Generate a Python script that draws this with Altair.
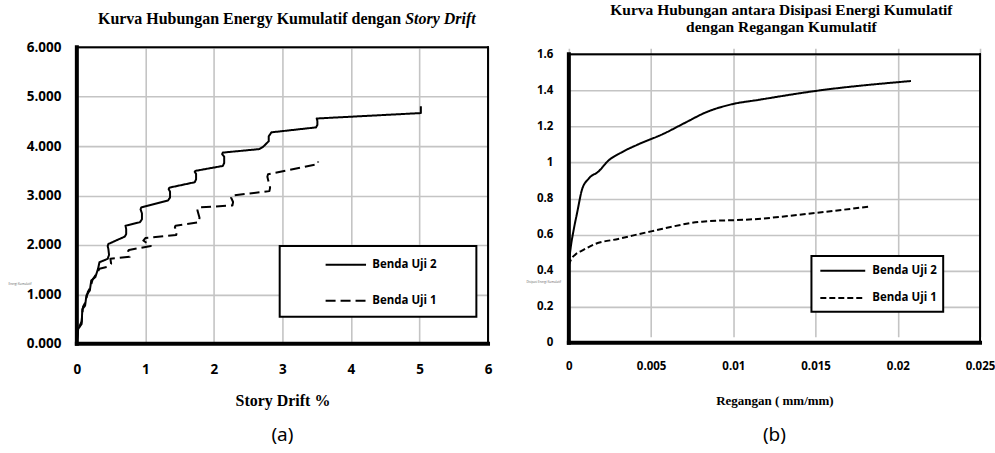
import altair as alt
import pandas as pd

SERIES = ["Benda Uji 2", "Benda Uji 1"]

# ---- panel (a): cumulative energy vs story drift ----
drift_u2 = [0.00, 0.02, 0.07, 0.08, 0.12, 0.14, 0.19, 0.21, 0.27, 0.31, 0.33, 0.45,
            0.47, 0.46, 0.45, 0.46,
            0.70, 0.72, 0.72, 0.71,
            0.92, 0.95, 0.95, 0.93, 0.94,
            1.33, 1.36, 1.36, 1.34, 1.35,
            1.72, 1.74, 1.74, 1.72, 1.73,
            2.13, 2.15, 2.15, 2.12, 2.13,
            2.66, 2.72, 2.80, 2.80, 2.84,
            3.49, 3.51, 3.51, 3.50,
            5.02, 5.02]
energy_u2 = [0.05, 0.30, 0.40, 0.70, 0.77, 0.98, 1.08, 1.28, 1.35, 1.52, 1.65, 1.72,
             1.80, 1.92, 1.98, 2.02,
             2.17, 2.22, 2.32, 2.39,
             2.46, 2.52, 2.64, 2.72, 2.76,
             2.90, 2.96, 3.08, 3.13, 3.16,
             3.27, 3.33, 3.44, 3.48, 3.50,
             3.60, 3.66, 3.79, 3.84, 3.87,
             3.94, 3.99, 4.10, 4.20, 4.28,
             4.38, 4.43, 4.51, 4.56,
             4.67, 4.81]
drift_u1 = [0.00, 0.02, 0.07, 0.09, 0.13, 0.16, 0.20, 0.23, 0.28, 0.33, 0.45, 0.50, 0.49,
            0.77, 0.76, 0.75, 0.76,
            1.08, 0.97, 1.00,
            1.45, 1.46, 1.43, 1.44,
            1.78, 1.79, 1.76, 1.77,
            2.27, 2.28, 2.25, 2.26,
            2.81, 2.82, 2.78, 2.79,
            3.52, 3.52]
energy_u1 = [0.05, 0.30, 0.45, 0.75, 0.85, 1.05, 1.15, 1.30, 1.40, 1.52, 1.56, 1.62, 1.72,
             1.76, 1.82, 1.88, 1.90,
             1.98, 2.09, 2.14,
             2.20, 2.27, 2.36, 2.39,
             2.46, 2.55, 2.70, 2.76,
             2.80, 2.87, 2.96, 3.00,
             3.09, 3.16, 3.38, 3.43,
             3.64, 3.69]

# ---- panel (b): cumulative dissipated energy vs cumulative strain ----
strain_u2 = [0.0000, 0.0001, 0.0003, 0.0005, 0.0008, 0.0012, 0.0018, 0.0024, 0.0032, 0.0042,
             0.0057, 0.0071, 0.0083, 0.0099, 0.0115, 0.0150, 0.0208]
diss_u2 = [0.44, 0.52, 0.63, 0.72, 0.85, 0.91, 0.95, 1.01, 1.056, 1.10,
           1.157, 1.222, 1.277, 1.323, 1.347, 1.397, 1.452]
strain_u1 = [0.0000, 0.0001, 0.0004, 0.0008, 0.0016, 0.0030, 0.0050, 0.0081, 0.0112, 0.0150, 0.0182]
diss_u1 = [0.43, 0.456, 0.49, 0.511, 0.548, 0.576, 0.618, 0.672, 0.685, 0.72, 0.755]

x_ticks_a = [0, 1, 2, 3, 4, 5, 6]
y_ticks_a = [0, 1, 2, 3, 4, 5, 6]
x_ticks_b = [0, 0.005, 0.01, 0.015, 0.02, 0.025]
y_ticks_b = [0, 0.2, 0.4, 0.6, 0.8, 1.0, 1.2, 1.4, 1.6]

title_a = ["Kurva Hubungan Energy Kumulatif  dengan", "Story Drift"]
title_b = ["Kurva Hubungan antara Disipasi Energi Kumulatif", "dengan Regangan Kumulatif"]
xtitle_a = "Story Drift  %"
xtitle_b = "Regangan  ( mm/mm)"
ytitle_a = "Energi Kumulatif"
ytitle_b = "Disipasi Energi Kumulatif"
panel_labels = ["(a)", "(b)"]

W, H = 412, 297
GRID = "#c4c4c4"
LFONT = "Open Sans"
SERIF = "Liberation Serif"


def series_df(xs_list, ys_list):
    rows = []
    for s, xs, ys in zip(SERIES, xs_list, ys_list):
        for i, (x, y) in enumerate(zip(xs, ys)):
            rows.append({"s": s, "i": i, "x": x, "y": y})
    return pd.DataFrame(rows)


def panel(df, xdom, ydom, yrange, xticks, yticks, xfmt, yfmt, lab_size, xlabpad, ylabpad,
          xtitle, xtitle_size, ytitle, ytitle_pos, dash, interp, box, leg_x, leg_y, leg_tx, leg_size,
          title_marks, title_size, plabel):
    xs = alt.Scale(domain=xdom, nice=False, zero=False)
    if yrange is None:
        ys = alt.Scale(domain=ydom, nice=False, zero=False)
    else:
        ys = alt.Scale(domain=ydom, nice=False, zero=False, range=yrange)
    xaxis = alt.Axis(values=xticks, format=xfmt, grid=True, gridColor=GRID, gridWidth=1.6,
                     ticks=False, domain=False, labelFont=LFONT, labelFontWeight="bold",
                     labelFontSize=lab_size, labelColor="black", labelPadding=xlabpad,
                     labelFlush=False, labelOverlap=False, labelBound=False,
                     title=xtitle, titleFont=SERIF, titleFontWeight="bold",
                     titleFontSize=xtitle_size, titleColor="black", titleX=W / 2, titleY=57,
                     titleBaseline="middle", titleAlign="center")
    yaxis = alt.Axis(values=yticks, format=yfmt, grid=True, gridColor=GRID, gridWidth=1.6,
                     ticks=False, domain=False, labelFont=LFONT, labelFontWeight="bold",
                     labelFontSize=lab_size, labelColor="black", labelPadding=ylabpad,
                     labelFlush=False, labelOverlap=False, labelBound=False,
                     title=ytitle, titleFont=LFONT, titleFontSize=3, titleFontWeight="normal",
                     titleColor="#666666", titleAngle=0, titleX=ytitle_pos[0], titleY=ytitle_pos[1],
                     titleAlign="left", titleBaseline="middle")
    X = lambda f="x": alt.X(f"{f}:Q", scale=xs, axis=xaxis)
    Y = lambda f="y": alt.Y(f"{f}:Q", scale=ys, axis=yaxis)
    dash_enc = alt.StrokeDash("s:N", scale=alt.Scale(domain=SERIES, range=[[1, 0], dash]), legend=None)

    lines = alt.Chart(df).mark_line(color="black", strokeWidth=2, interpolate=interp,
                                    strokeJoin="round").encode(
        x=X(), y=Y(), strokeDash=dash_enc, order="i:Q")

    border = pd.DataFrame({
        "x": [xdom[0], xdom[1], xdom[0], xdom[0]],
        "x2": [xdom[1], xdom[1], xdom[0], xdom[1]],
        "y": [ydom[1], ydom[0], ydom[0], ydom[0]],
        "y2": [ydom[1], ydom[1], ydom[1], ydom[0]],
        "w": [2, 2, 4, 4],
    })
    frame = alt.Chart(border).mark_rule(color="black", strokeCap="square").encode(
        x=X(), y=Y(), x2="x2:Q", y2="y2:Q", strokeWidth=alt.StrokeWidth("w:Q", scale=None))

    boxdf = pd.DataFrame({"x": [box[0]], "x2": [box[1]], "y": [box[2]], "y2": [box[3]]})
    legbox = alt.Chart(boxdf).mark_rect(fill="white", stroke="black", strokeWidth=2).encode(
        x=X(), x2="x2:Q", y=Y(), y2="y2:Q")

    legdf = pd.DataFrame({"s": SERIES, "x": [leg_x[0]] * 2, "x2": [leg_x[1]] * 2,
                          "y": leg_y, "tx": [leg_tx] * 2})
    leglines = alt.Chart(legdf).mark_rule(color="black", strokeWidth=2).encode(
        x=X(), x2="x2:Q", y=Y(), strokeDash=dash_enc)
    legtext = alt.Chart(legdf).mark_text(align="left", baseline="middle", font=LFONT,
                                         fontWeight="bold", fontSize=leg_size, color="black").encode(
        x=X("tx"), y=Y(), text="s:N")

    layers = [lines, legbox, leglines, legtext, frame]
    for txt, px, py, align, style in title_marks:
        tdf = pd.DataFrame({"t": [txt]})
        layers.append(alt.Chart(tdf).mark_text(align=align, baseline="middle", font=SERIF,
                                               fontWeight="bold", fontStyle=style,
                                               fontSize=title_size, color="black").encode(
            x=alt.value(px), y=alt.value(py), text="t:N"))
    pdf = pd.DataFrame({"t": [plabel]})
    layers.append(alt.Chart(pdf).mark_text(align="center", baseline="middle", font="Noto Sans",
                                           fontSize=19, color="black").encode(
        x=alt.value(W / 2), y=alt.value(388), text="t:N"))
    return alt.layer(*layers).properties(width=W, height=H)


left = panel(
    series_df([drift_u2, drift_u1], [energy_u2, energy_u1]),
    [0, 6], [0, 6], None, x_ticks_a, y_ticks_a, "d", ".3f", 13.5, 19, 16,
    xtitle_a, 16, ytitle_a, (-69, 237), [10, 5], "linear",
    (2.96, 5.83, 1.98, 0.545), (3.63, 4.22), [1.60, 0.87], 4.31, 11.5,
    [(title_a[0], 325, -28, "right", "normal"), (title_a[1], 329, -28, "left", "italic")], 16,
    panel_labels[0],
)

right = panel(
    series_df([strain_u2, strain_u1], [diss_u2, diss_u1]),
    [0, 0.025], [0, 1.6], [296, 7], x_ticks_b, y_ticks_b, "~g", "~g", 11.5, 17, 16,
    xtitle_b, 13, ytitle_b, (-43, 235), [6, 3], "monotone",
    (0.01475, 0.02276, 0.482, 0.172), (0.01529, 0.01802), [0.399, 0.249], 0.01845, 11.5,
    [(title_b[0], 213, -37, "center", "normal"), (title_b[1], 213, -20, "center", "normal")], 15.5,
    panel_labels[1],
)

chart = alt.hconcat(left, right, spacing=81, bounds="flush").resolve_scale(
    x="independent", y="independent", strokeDash="independent"
).configure_view(stroke=None).properties(
    padding={"left": 8, "top": 3, "right": 0, "bottom": 12}, background="white"
)

chart.save("out.html", embed_options={"renderer": "svg", "actions": False})
